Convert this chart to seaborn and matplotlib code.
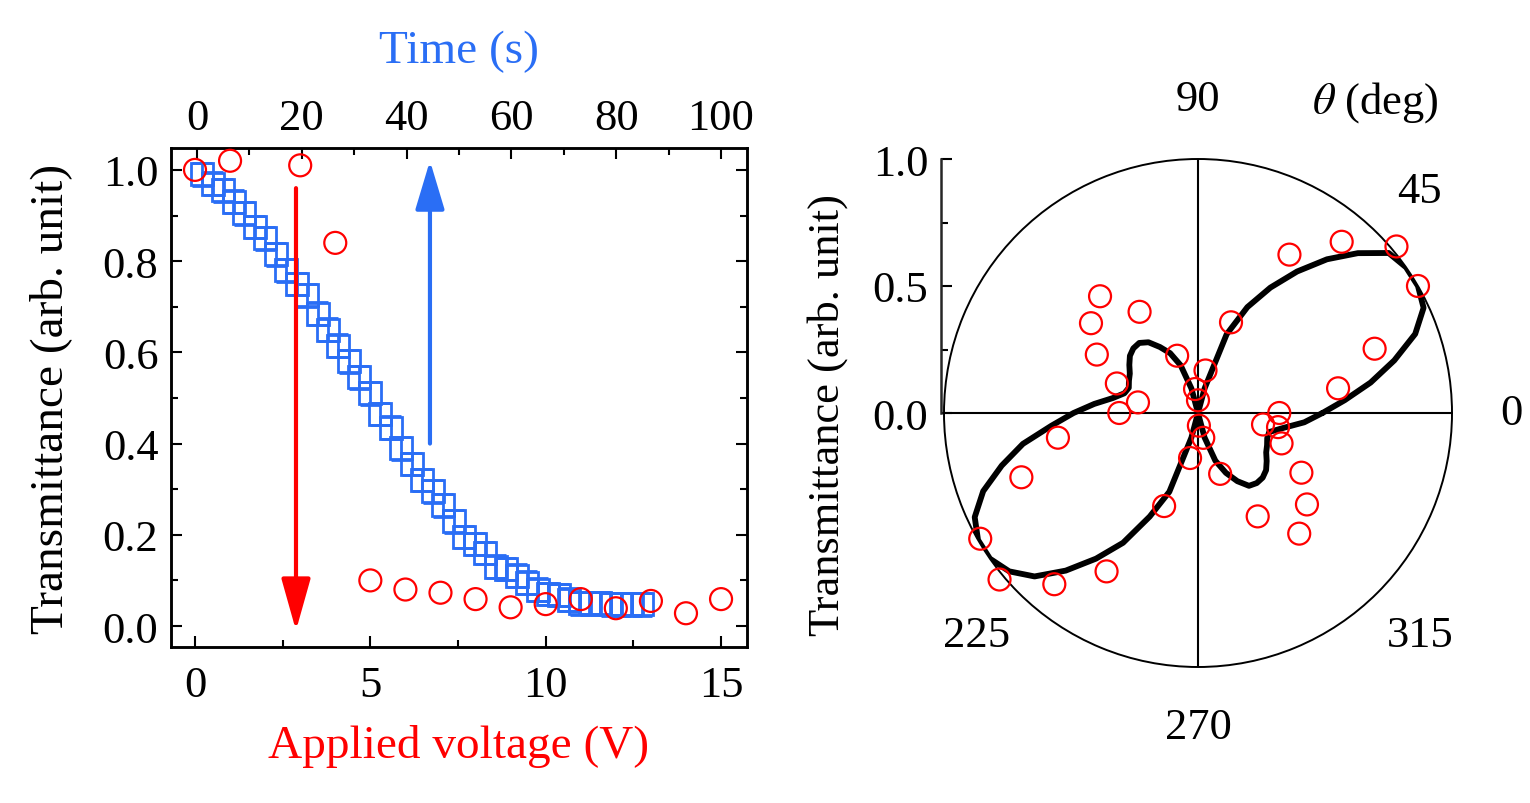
import numpy as np
import matplotlib
matplotlib.use('Agg')
import matplotlib.pyplot as plt
from matplotlib.ticker import MultipleLocator, FormatStrFormatter
import seaborn as sns

sns.set_theme(style='ticks')
plt.rcParams['font.family'] = ['Liberation Serif', 'DejaVu Serif']
plt.rcParams['mathtext.fontset'] = 'stix'
plt.rcParams['text.color'] = 'black'
plt.rcParams['axes.labelcolor'] = 'black'
plt.rcParams['xtick.color'] = 'black'
plt.rcParams['ytick.color'] = 'black'

RED = '#ff0000'
BLUE = '#2a6ef5'

# ---- left panel: transmittance vs applied voltage (bottom axis) ----
voltage = [0, 1, 3, 4, 5, 6, 7, 8, 9, 10, 11, 12, 13, 14, 15]
trans_voltage = [1.00, 1.02, 1.01, 0.84, 0.10, 0.08, 0.073, 0.059, 0.041,
                 0.048, 0.059, 0.039, 0.055, 0.028, 0.059]

# ---- left panel: transmittance vs time (top axis) ----
time_s = list(range(1, 87, 2))
trans_time = [0.99, 0.97, 0.955, 0.93, 0.905, 0.875, 0.85, 0.815, 0.78, 0.75,
              0.725, 0.685, 0.65, 0.615, 0.58, 0.545, 0.51, 0.465, 0.435, 0.39,
              0.355, 0.32, 0.295, 0.265, 0.23, 0.195, 0.18, 0.16, 0.13, 0.125,
              0.11, 0.095, 0.08, 0.07, 0.068, 0.058, 0.05, 0.05, 0.05, 0.048,
              0.048, 0.048, 0.048]
trans_time_err = 0.025

# arrows (voltage units / transmittance)
red_arrow_x, red_arrow_from, red_arrow_to = 2.88, 0.96, -0.01
blue_arrow_x, blue_arrow_from, blue_arrow_to = 6.70, 0.40, 1.02

# ---- right panel: polar measurement and fit ----
theta_meas = [0, 10, 20, 30, 40, 50, 60, 70, 80, 90, 97, 110, 120, 130, 140,
              150, 160, 170, 180, 190, 200, 210, 220, 230, 240, 250, 260, 274,
              282, 290, 300, 310, 320, 330, 340, 350, 350]
r_meas = [0.32, 0.56, 0.74, 1.00, 1.02, 0.88, 0.72, 0.38, 0.17, 0.05, 0.095,
          0.24, 0.46, 0.60, 0.55, 0.46, 0.34, 0.24, 0.31, 0.56, 0.74, 0.99,
          1.02, 0.88, 0.72, 0.39, 0.18, 0.05, 0.10, 0.255, 0.47, 0.62, 0.56,
          0.47, 0.35, 0.26, 0.32]

theta_fit = list(range(0, 365, 5))
r_fit = [0.49, 0.58, 0.69, 0.80, 0.91, 0.98, 1.00, 1.00, 0.98, 0.89,
         0.79, 0.68, 0.57, 0.46, 0.33, 0.10, 0.0, 0.0, 0.0, 0.0,
         0.0, 0.10, 0.20, 0.26, 0.30, 0.34, 0.36, 0.36, 0.35, 0.33,
         0.31, 0.30, 0.29, 0.30, 0.34, 0.41, 0.49,
         0.58, 0.70, 0.80, 0.90, 0.97, 1.00, 1.00, 0.97, 0.91, 0.81,
         0.70, 0.59, 0.45, 0.33, 0.10, 0.0, 0.0, 0.0, 0.0, 0.0,
         0.10, 0.20, 0.26, 0.31, 0.35, 0.36, 0.36, 0.35, 0.33, 0.31,
         0.30, 0.29, 0.29, 0.34, 0.42, 0.49]

angle_labels = [0, 45, 90, 225, 270, 315]

W, H = 1530, 804
fig = plt.figure(figsize=(W / 100, H / 100), dpi=100)

TICK_FS = 32
LABEL_FS = 34


def style_axis(a):
    for s in a.spines.values():
        s.set_linewidth(1.8)
        s.set_color('black')


# ---------------- left panel ----------------
ax = fig.add_axes([171 / W, 1 - 648 / H, 576 / W, 499 / H])
ax_top = ax.twiny()

ax_top.errorbar(time_s, trans_time, yerr=trans_time_err, fmt='s', ms=15.5,
                mfc='none', mec=BLUE, mew=2, ecolor=BLUE, elinewidth=2,
                capsize=7, capthick=2, zorder=2)

sns.scatterplot(x=voltage, y=trans_voltage, ax=ax, marker='o', s=250,
                facecolor='none', edgecolor=RED, linewidth=1.6, zorder=3)
for c in ax.collections:
    c.set_facecolor('none')
    c.set_edgecolor(RED)

ax.annotate('', xy=(red_arrow_x, red_arrow_to), xytext=(red_arrow_x, red_arrow_from),
            arrowprops=dict(arrowstyle='-|>,head_length=1.6,head_width=0.45',
                            color=RED, lw=3, mutation_scale=20,
                            shrinkA=0, shrinkB=0), zorder=4)
ax.annotate('', xy=(blue_arrow_x, blue_arrow_to), xytext=(blue_arrow_x, blue_arrow_from),
            arrowprops=dict(arrowstyle='-|>,head_length=1.5,head_width=0.45',
                            color=BLUE, lw=3, mutation_scale=20,
                            shrinkA=0, shrinkB=0), zorder=4)

ax.set_xlim(-0.684, 15.74)
ax.set_ylim(-0.046, 1.048)
ax_top.set_xlim(-4.96, 104.96)

ax.set_zorder(ax_top.get_zorder() + 1)
ax.patch.set_visible(False)

ax.xaxis.set_major_locator(MultipleLocator(5))
ax.xaxis.set_minor_locator(MultipleLocator(2.5))
ax.yaxis.set_major_locator(MultipleLocator(0.2))
ax.yaxis.set_minor_locator(MultipleLocator(0.1))
ax.yaxis.set_major_formatter(FormatStrFormatter('%.1f'))
ax_top.xaxis.set_major_locator(MultipleLocator(20))
ax_top.xaxis.set_minor_locator(MultipleLocator(10))

ax.tick_params(which='both', direction='in', width=1.5, top=False,
               right=True, labelsize=TICK_FS, colors='black')
ax.tick_params(which='major', length=8, pad=9)
ax.tick_params(axis='x', which='major', pad=13)
ax.tick_params(which='minor', length=5)
ax_top.tick_params(which='both', direction='in', width=1.5, bottom=False,
                   top=True, labelsize=TICK_FS, colors='black')
ax_top.tick_params(which='major', length=8, pad=7)
ax_top.tick_params(which='minor', length=5)
ax_top.yaxis.set_visible(False)

ax.set_xlabel('Applied voltage (V)', fontsize=LABEL_FS, color=RED, labelpad=14)
ax.set_ylabel('Transmittance (arb. unit)', fontsize=LABEL_FS, labelpad=22)
ax_top.set_xlabel('Time (s)', fontsize=LABEL_FS, color=BLUE, labelpad=26)
style_axis(ax)
style_axis(ax_top)

# ---------------- right panel (polar) ----------------
cx, cy, R = 1198, 414, 254
axp = fig.add_axes([(cx - R) / W, 1 - (cy + R) / H, 2 * R / W, 2 * R / H],
                   projection='polar')
th_fit = np.deg2rad(theta_fit)
th_meas = np.deg2rad(theta_meas)
sns.lineplot(x=th_fit, y=r_fit, ax=axp, sort=False, color='black', lw=4.2,
             zorder=3, solid_joinstyle='round', solid_capstyle='round')
axp.scatter(th_meas, r_meas, s=250, facecolors='none', edgecolors=RED,
            linewidths=1.6, zorder=4, clip_on=False)

axp.set_ylim(0, 1.0)
axp.set_yticks([])
axp.set_xticks(np.deg2rad([0, 90, 180, 270]))
axp.set_xticklabels([])
axp.tick_params(axis='x', length=0)
axp.grid(True, color='black', lw=1.5)
axp.yaxis.grid(False)
axp.spines['polar'].set_linewidth(1.4)
axp.spines['polar'].set_color('black')
for a in angle_labels:
    axp.text(np.deg2rad(a), 1.235, str(a), ha='center', va='center',
             fontsize=TICK_FS, clip_on=False)

fig.text(1375 / W, 1 - 103 / H, r'$\theta$ (deg)', ha='center', va='center',
         fontsize=TICK_FS)

# radial scale drawn as a separate vertical axis on the left of the circle
axr = fig.add_axes([(cx - R - 3) / W, 1 - cy / H, 0.02, R / H])
axr.patch.set_visible(False)
for side in ['top', 'right', 'bottom']:
    axr.spines[side].set_visible(False)
axr.spines['left'].set_linewidth(1.8)
axr.set_ylim(0, 1.0)
axr.set_xticks([])
axr.yaxis.set_major_locator(MultipleLocator(0.5))
axr.yaxis.set_minor_locator(MultipleLocator(0.25))
axr.yaxis.set_major_formatter(FormatStrFormatter('%.1f'))
axr.tick_params(which='both', direction='in', width=1.5, labelsize=TICK_FS,
                colors='black')
axr.tick_params(which='major', length=8, pad=9)
axr.tick_params(which='minor', length=5)

fig.text(828 / W, 1 - 415 / H, 'Transmittance (arb. unit)', rotation=90,
         ha='center', va='center', fontsize=32)

fig.savefig('out.png', dpi=100)
